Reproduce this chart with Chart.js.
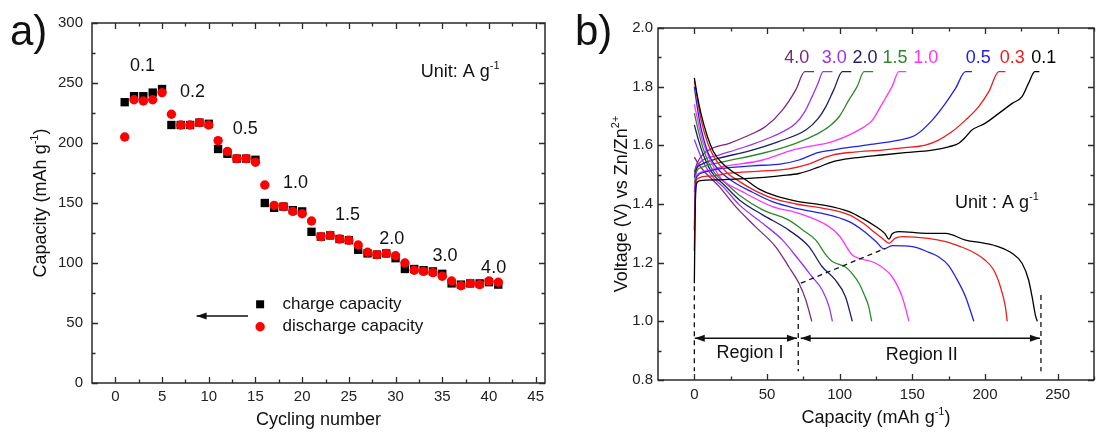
<!DOCTYPE html>
<html><head><meta charset="utf-8">
<script src="https://cdn.jsdelivr.net/npm/chart.js@4.4.1/dist/chart.umd.min.js"></script>
<style>
html,body{margin:0;padding:0;background:#fff;width:1097px;height:439px;overflow:hidden}
#ca{position:absolute;left:0;top:0}
#cb{position:absolute;left:560px;top:0}
</style></head><body>
<canvas id="ca" width="560" height="439"></canvas>
<canvas id="cb" width="537" height="439"></canvas>
<script>
// ================= Panel a data =================
const cycles = [1,2,3,4,5,6,7,8,9,10,11,12,13,14,15,16,17,18,19,20,21,22,23,24,25,26,27,28,29,30,31,32,33,34,35,36,37,38,39,40,41];
const chargeCapacity = [234,239,239,242,245,215,215,215,217,216,195,191,187,187,186,150,146,147,144,143,126,122,123,120,119,111,108,107,108,104,95,95,94,93,91,83,82,83,83,84,82];
const dischargeCapacity = [205,236,235,236,242,224,215,215,217,215,202,193,187,187,184,165,148,147,143,141,135,122,123,120,119,115,109,107,108,106,100,94,93,92,89,85,81,83,82,85,84];
const aXTickLabels = ['0','5','10','15','20','25','30','35','40','45'];
const aYTickLabels = ['0','50','100','150','200','250','300'];
const aRateLabels = ['0.1','0.2','0.5','1.0','1.5','2.0','3.0','4.0'];

// ================= Panel b data =================
const bRates = ['0.1','0.3','0.5','1.0','1.5','2.0','3.0','4.0'];
const chg_0_1 = [[0,1.13],[0.6,1.38],[1.5,1.47],[4,1.48],[20,1.483],[45,1.49],[60,1.497],[72,1.504],[85,1.525],[95,1.544],[110,1.557],[129,1.567],[145,1.575],[163.7,1.584],[175,1.595],[182,1.607],[186,1.625],[191,1.652],[200,1.675],[209.5,1.709],[218.7,1.743],[225.5,1.766],[230,1.812],[234.3,1.851],[237.4,1.851]];
const dis_0_1 = [[0,1.83],[2,1.77],[4.5,1.71],[9,1.63],[13,1.58],[18,1.545],[25,1.515],[35.5,1.482],[45,1.45],[54,1.431],[70,1.41],[88,1.397],[106.5,1.374],[116,1.35],[124.8,1.323],[131,1.30],[134,1.28],[136,1.298],[140.8,1.306],[160,1.30],[172.9,1.30],[186.6,1.277],[200,1.266],[209.5,1.254],[218.6,1.232],[225.5,1.198],[230,1.141],[232.8,1.073],[234.7,1.02],[236,1.0]];
const chg_0_3 = [[0,1.24],[0.6,1.42],[1.8,1.485],[10,1.495],[24,1.505],[45,1.512],[65,1.52],[78,1.535],[88,1.555],[95,1.567],[110,1.577],[129,1.584],[145,1.592],[159,1.601],[168,1.618],[177.4,1.647],[186.6,1.686],[195.7,1.732],[202.6,1.783],[209.5,1.851],[214,1.851]];
const dis_0_3 = [[0,1.82],[2,1.76],[4.5,1.69],[9,1.61],[13,1.565],[18,1.53],[24,1.50],[30,1.48],[40,1.45],[53.6,1.42],[70,1.40],[88,1.386],[106.5,1.363],[116,1.335],[124.8,1.30],[130,1.28],[134,1.266],[138,1.283],[143,1.289],[161,1.283],[172.9,1.272],[183,1.255],[191,1.238],[200,1.209],[206,1.175],[210.6,1.118],[214,1.05],[215.3,1.0]];
const chg_0_5 = [[0,1.31],[0.6,1.46],[2,1.495],[8,1.51],[17,1.52],[40,1.53],[60,1.537],[72,1.55],[85,1.575],[95,1.584],[118,1.601],[140.8,1.618],[152.3,1.635],[163.7,1.686],[172.9,1.744],[179.7,1.794],[186.6,1.851],[191,1.851]];
const dis_0_5 = [[0,1.80],[2,1.73],[4.5,1.66],[9,1.58],[13,1.54],[18,1.51],[27,1.475],[40,1.44],[53.6,1.408],[70,1.385],[88,1.368],[106.5,1.34],[116,1.31],[124.8,1.273],[130.5,1.247],[136,1.258],[150,1.255],[161.4,1.235],[168,1.22],[175,1.19],[179.7,1.152],[186.6,1.084],[192.3,1.0]];
const chg_1_0 = [[0,1.44],[1,1.49],[3,1.505],[10,1.515],[19.5,1.527],[47,1.55],[67.5,1.584],[80,1.597],[95,1.613],[113,1.652],[122.5,1.686],[129.4,1.743],[136,1.80],[140.8,1.851],[145.8,1.851]];
const dis_1_0 = [[0,1.74],[3,1.67],[6,1.61],[10,1.56],[14,1.52],[19.5,1.482],[33,1.442],[53.8,1.391],[72,1.368],[92.7,1.323],[100,1.29],[108.7,1.226],[113,1.215],[124.8,1.198],[136,1.152],[143,1.084],[147.7,1.0]];
const chg_1_5 = [[0,1.47],[1.5,1.51],[5,1.525],[17,1.541],[47,1.573],[69.8,1.607],[85,1.64],[92.7,1.664],[100,1.70],[106.5,1.756],[112,1.80],[116.8,1.851],[123,1.851]];
const dis_1_5 = [[0,1.71],[3,1.645],[6,1.59],[10,1.54],[14,1.505],[21.8,1.47],[31,1.43],[47,1.38],[65,1.345],[75,1.31],[83.6,1.277],[90,1.23],[95,1.204],[104,1.185],[109,1.16],[113.3,1.13],[117,1.09],[120,1.05],[122,1.0]];
const chg_2_0 = [[0,1.49],[1.5,1.52],[5,1.535],[17,1.556],[35.5,1.578],[58,1.613],[76.7,1.652],[85,1.69],[90.5,1.732],[96,1.79],[101.9,1.851],[108,1.851]];
const dis_2_0 = [[0,1.67],[3,1.615],[6,1.57],[10,1.525],[14,1.495],[19.5,1.47],[31,1.414],[47,1.363],[65,1.311],[79,1.254],[88,1.186],[97,1.141],[104,1.084],[108.7,1.0]];
const chg_3_0 = [[0,1.50],[2,1.53],[6,1.55],[17,1.567],[35.5,1.596],[53.8,1.63],[69.8,1.675],[76,1.715],[81,1.766],[85,1.81],[88.6,1.851],[95,1.851]];
const dis_3_0 = [[0,1.62],[3,1.58],[6,1.545],[10,1.51],[14,1.485],[19.5,1.46],[31,1.397],[47,1.334],[60.7,1.277],[72,1.209],[81,1.152],[88,1.107],[92.7,1.05],[95,1.0]];
const chg_4_0 = [[0,1.51],[2,1.54],[6,1.57],[12.4,1.59],[24,1.607],[35.5,1.63],[49,1.664],[60.6,1.72],[69.8,1.789],[76,1.851],[82.4,1.851]];
const dis_4_0 = [[0,1.56],[3,1.535],[7,1.51],[12,1.485],[17,1.46],[28.6,1.39],[42,1.323],[56,1.254],[65,1.186],[72,1.13],[76.7,1.073],[80.8,1.0]];
const bXTickLabels = ['0','50','100','150','200','250'];
const bYTickLabels = ['0.8','1.0','1.2','1.4','1.6','1.8','2.0'];

// ================= styling / helpers =================
const FONT = '"Liberation Sans", Arial, Helvetica, sans-serif';
const bColors = ['#000000','#ee1c1c','#1f22e6','#ff33ff','#2a8a2a','#1c1f66','#9a33ec','#7a2a7c'];
const bCharge = [chg_0_1,chg_0_3,chg_0_5,chg_1_0,chg_1_5,chg_2_0,chg_3_0,chg_4_0];
const bDischarge = [dis_0_1,dis_0_3,dis_0_5,dis_1_0,dis_1_5,dis_2_0,dis_3_0,dis_4_0];

function richText(ctx, parts, x, y, size, align, color) {
  ctx.save();
  ctx.fillStyle = color || '#222';
  ctx.textBaseline = 'middle';
  ctx.textAlign = 'left';
  let w = 0;
  const items = parts.map(p => {
    const s = p[1] ? Math.round(size * 0.62) : size;
    ctx.font = s + 'px ' + FONT;
    const mw = ctx.measureText(p[0]).width;
    w += mw;
    return {t: p[0], s: s, sup: p[1], w: mw};
  });
  let cx = align === 'center' ? x - w / 2 : (align === 'right' ? x - w : x);
  items.forEach(it => {
    ctx.font = it.s + 'px ' + FONT;
    ctx.fillText(it.t, cx, it.sup ? y - size * 0.36 : y);
    cx += it.w;
  });
  ctx.restore();
}
function arrow(ctx, x1, y1, x2, y2, headStart, headEnd) {
  const hl = 10, hw = 3.5;
  const ang = Math.atan2(y2 - y1, x2 - x1);
  ctx.beginPath(); ctx.moveTo(x1, y1); ctx.lineTo(x2, y2); ctx.stroke();
  const head = (x, y, a) => {
    ctx.beginPath();
    ctx.moveTo(x, y);
    ctx.lineTo(x - hl * Math.cos(a) + hw * Math.sin(a), y - hl * Math.sin(a) - hw * Math.cos(a));
    ctx.lineTo(x - hl * Math.cos(a) - hw * Math.sin(a), y - hl * Math.sin(a) + hw * Math.cos(a));
    ctx.closePath(); ctx.fill();
  };
  if (headEnd) head(x2, y2, ang);
  if (headStart) head(x1, y1, ang + Math.PI);
}
function frame(chart, xMaj, xMin, yMaj, yMin) {
  const ctx = chart.ctx, a = chart.chartArea, xs = chart.scales.x, ys = chart.scales.y;
  ctx.save();
  ctx.strokeStyle = '#2a2a2a';
  ctx.lineWidth = 1.5;
  ctx.strokeRect(a.left, a.top, a.right - a.left, a.bottom - a.top);
  ctx.lineWidth = 1.3;
  ctx.beginPath();
  const tx = (v, len) => { const p = Math.round(xs.getPixelForValue(v)) + 0.5; ctx.moveTo(p, a.bottom); ctx.lineTo(p, a.bottom - len); ctx.moveTo(p, a.top); ctx.lineTo(p, a.top + len); };
  const ty = (v, len) => { const p = Math.round(ys.getPixelForValue(v)) + 0.5; ctx.moveTo(a.left, p); ctx.lineTo(a.left + len, p); ctx.moveTo(a.right, p); ctx.lineTo(a.right - len, p); };
  xMaj.forEach(v => tx(v, 6)); xMin.forEach(v => tx(v, 3.5));
  yMaj.forEach(v => ty(v, 6)); yMin.forEach(v => ty(v, 3.5));
  ctx.stroke();
  ctx.restore();
}
function mids(vals) { const r = []; for (let i = 0; i < vals.length - 1; i++) r.push((vals[i] + vals[i + 1]) / 2); return r; }

// ================= Chart a =================
const aXTicks = aXTickLabels.map(Number);
const aYTicks = aYTickLabels.map(Number);
const decoA = {
  id: 'decoA',
  afterDraw(chart) {
    const ctx = chart.ctx, a = chart.chartArea, xs = chart.scales.x, ys = chart.scales.y;
    const X = v => xs.getPixelForValue(v), Y = v => ys.getPixelForValue(v);
    frame(chart, aXTicks, mids(aXTicks), aYTicks, mids(aYTicks));
    // panel tag
    ctx.save(); ctx.fillStyle = '#111'; ctx.font = '42px ' + FONT; ctx.textBaseline = 'alphabetic'; ctx.textAlign = 'left';
    ctx.fillText('a)', 10, 45); ctx.restore();
    // rate labels
    const ratePos = [[2.9,264],[8.25,242.5],[13.9,212],[19.3,167],[24.85,139.6],[29.6,120],[35.3,105.8],[40.5,95.8]];
    aRateLabels.forEach((t, i) => richText(ctx, [[t]], X(ratePos[i][0]), Y(ratePos[i][1]), 18, 'center', '#111'));
    richText(ctx, [['Unit: A g'], ['-1', true]], X(32.7), Y(259), 18, 'left', '#111');
    // legend
    ctx.save();
    ctx.fillStyle = '#000'; ctx.fillRect(X(15.5) - 4, Y(65.6) - 4, 8, 8);
    ctx.fillStyle = '#ff0000'; ctx.beginPath(); ctx.arc(X(15.5), Y(46.9), 4.7, 0, Math.PI * 2); ctx.fill();
    ctx.restore();
    richText(ctx, [['charge capacity']], X(17.9), Y(65.6), 17, 'left', '#111');
    richText(ctx, [['discharge capacity']], X(17.9), Y(46.9), 17, 'left', '#111');
    ctx.save(); ctx.strokeStyle = '#111'; ctx.fillStyle = '#111'; ctx.lineWidth = 1.5;
    arrow(ctx, X(14.2), Y(55.8), X(8.7), Y(55.8), false, true); ctx.restore();
    // axis titles
    richText(ctx, [['Cycling number']], (a.left + a.right) / 2, 420, 18, 'center', '#111');
    ctx.save(); ctx.translate(41, (a.top + a.bottom) / 2); ctx.rotate(-Math.PI / 2);
    richText(ctx, [['Capacity (mAh g'], ['-1', true], [')']], 0, 0, 18, 'center', '#111');
    ctx.restore();
  }
};
new Chart(document.getElementById('ca'), {
  type: 'scatter',
  data: { datasets: [
    { label: 'discharge capacity', order: 0, data: cycles.map((c, i) => ({x: c, y: dischargeCapacity[i]})),
      pointStyle: 'circle', pointRadius: 4.7, backgroundColor: '#ff0000', borderColor: '#ff0000', borderWidth: 0 },
    { label: 'charge capacity', order: 1, data: cycles.map((c, i) => ({x: c, y: chargeCapacity[i]})),
      pointStyle: 'rect', pointRadius: 5.9, backgroundColor: '#000000', borderColor: '#000000', borderWidth: 0 }
  ]},
  options: {
    responsive: false, animation: false, events: [], devicePixelRatio: 1,
    layout: { padding: { left: 0, right: 15, top: 23, bottom: 0 } },
    plugins: { legend: { display: false }, tooltip: { enabled: false } },
    scales: {
      x: { type: 'linear', min: -2.5, max: 46,
        grid: { display: false, drawTicks: false }, border: { display: false },
        afterBuildTicks: s => { s.ticks = aXTicks.map(v => ({value: v})); },
        afterFit: s => { s.height = 56; s.paddingLeft = 0; s.paddingRight = 0; },
        ticks: { font: { family: FONT, size: 15 }, color: '#222', padding: 5, maxRotation: 0, autoSkip: false,
          callback: (v, i) => aXTickLabels[i] } },
      y: { type: 'linear', min: 0, max: 300,
        grid: { display: false, drawTicks: false }, border: { display: false },
        afterBuildTicks: s => { s.ticks = aYTicks.map(v => ({value: v})); },
        afterFit: s => { s.width = 92; s.paddingTop = 0; s.paddingBottom = 0; },
        ticks: { font: { family: FONT, size: 15 }, color: '#222', padding: 9, autoSkip: false,
          callback: (v, i) => aYTickLabels[i] } }
    }
  },
  plugins: [decoA]
});

// ================= Chart b =================
const bXTicks = bXTickLabels.map(Number);
const bYTicks = bYTickLabels.map(Number);
const datasetsB = [];
bRates.forEach((r, i) => {
  [bCharge[i], bDischarge[i]].forEach((arr, k) => {
    datasetsB.push({
      label: r + (k ? ' discharge' : ' charge'),
      data: arr.map(p => ({x: p[0], y: p[1]})),
      showLine: true, borderColor: bColors[i], backgroundColor: bColors[i], borderWidth: 1.3,
      pointRadius: 0, cubicInterpolationMode: 'monotone'
    });
  });
});
const decoB = {
  id: 'decoB',
  afterDraw(chart) {
    const ctx = chart.ctx, a = chart.chartArea, xs = chart.scales.x, ys = chart.scales.y;
    const X = v => xs.getPixelForValue(v), Y = v => ys.getPixelForValue(v);
    frame(chart, bXTicks, mids(bXTicks).concat([275]), bYTicks, mids(bYTicks));
    ctx.save(); ctx.fillStyle = '#111'; ctx.font = '42px ' + FONT; ctx.textBaseline = 'alphabetic'; ctx.textAlign = 'left';
    ctx.fillText('b)', 15, 45); ctx.restore();
    // rate labels
    const labX = [240.4, 218.7, 195.4, 159.3, 138, 117.4, 96.2, 70.4];
    bRates.forEach((t, i) => richText(ctx, [[t]], X(labX[i]), Y(1.897), 18, 'center', bColors[i]));
    richText(ctx, [['Unit : A g'], ['-1', true]], X(179.4), Y(1.403), 18, 'left', '#111');
    // dashed guides
    ctx.save(); ctx.strokeStyle = '#111'; ctx.lineWidth = 1.3; ctx.setLineDash([5, 4]);
    [[[0, 1.12], [0, 0.83]], [[71.5, 1.114], [71.5, 0.83]], [[238.5, 1.09], [238.5, 0.83]], [[73.3, 1.13], [131.6, 1.249]]].forEach(s => {
      ctx.beginPath(); ctx.moveTo(X(s[0][0]), Y(s[0][1])); ctx.lineTo(X(s[1][0]), Y(s[1][1])); ctx.stroke();
    });
    ctx.setLineDash([]); ctx.fillStyle = '#111'; ctx.lineWidth = 1.5;
    arrow(ctx, X(0.3), Y(0.942), X(70.6), Y(0.942), true, true);
    arrow(ctx, X(73.2), Y(0.942), X(237.8), Y(0.942), true, true);
    ctx.restore();
    richText(ctx, [['Region I']], X(38.3), Y(0.891), 18, 'center', '#111');
    richText(ctx, [['Region II']], X(156.5), Y(0.885), 18, 'center', '#111');
    // axis titles
    richText(ctx, [['Capacity (mAh g'], ['-1', true], [')']], (a.left + a.right) / 2, 418, 18, 'center', '#111');
    ctx.save(); ctx.translate(62, (a.top + a.bottom) / 2); ctx.rotate(-Math.PI / 2);
    richText(ctx, [['Voltage (V) vs Zn/Zn'], ['2+', true]], 0, 0, 18, 'center', '#111');
    ctx.restore();
  }
};
new Chart(document.getElementById('cb'), {
  type: 'scatter',
  data: { datasets: datasetsB },
  options: {
    responsive: false, animation: false, events: [], devicePixelRatio: 1,
    layout: { padding: { left: 0, right: 3, top: 28, bottom: 0 } },
    plugins: { legend: { display: false }, tooltip: { enabled: false } },
    scales: {
      x: { type: 'linear', min: -25, max: 275,
        grid: { display: false, drawTicks: false }, border: { display: false },
        afterBuildTicks: s => { s.ticks = bXTicks.map(v => ({value: v})); },
        afterFit: s => { s.height = 59; s.paddingLeft = 0; s.paddingRight = 0; },
        ticks: { font: { family: FONT, size: 15 }, color: '#222', padding: 6, maxRotation: 0, autoSkip: false,
          callback: (v, i) => bXTickLabels[i] } },
      y: { type: 'linear', min: 0.8, max: 2.0,
        grid: { display: false, drawTicks: false }, border: { display: false },
        afterBuildTicks: s => { s.ticks = bYTicks.map(v => ({value: v})); },
        afterFit: s => { s.width = 98; s.paddingTop = 0; s.paddingBottom = 0; },
        ticks: { font: { family: FONT, size: 15 }, color: '#222', padding: 5, autoSkip: false,
          callback: (v, i) => bYTickLabels[i] } }
    }
  },
  plugins: [decoB]
});
</script>
</body></html>
